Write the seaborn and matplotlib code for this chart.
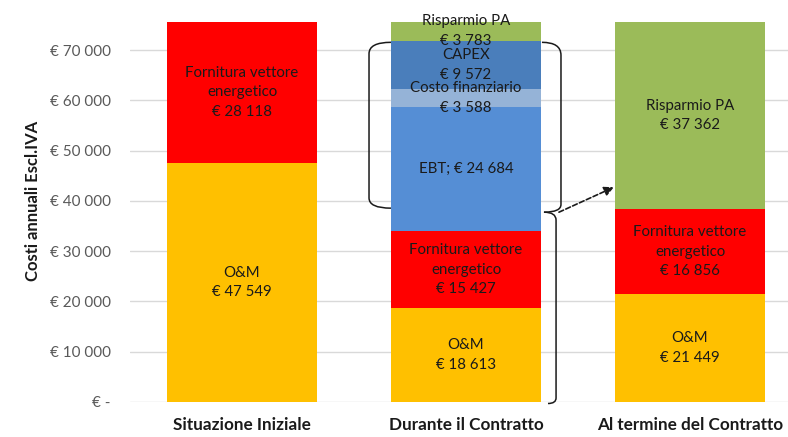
import matplotlib
matplotlib.use("Agg")
import matplotlib.pyplot as plt
from matplotlib.path import Path
from matplotlib.patches import PathPatch
from matplotlib.ticker import FuncFormatter
import numpy as np
import pandas as pd
import seaborn as sns

# ---- data -------------------------------------------------------------
categories = ["Situazione Iniziale", "Durante il Contratto", "Al termine del Contratto"]
om = [47549, 18613, 21449]
fornitura = [28118, 15427, 16856]
ebt = [0, 24684, 0]
costo_finanziario = [0, 3588, 0]
capex = [0, 9572, 0]
risparmio_pa = [0, 3783, 37362]

layers = [
    ("O&M", om, "#FFC000", "O&M\n€ {v}"),
    ("Fornitura vettore energetico", fornitura, "#FF0000", "Fornitura vettore\nenergetico\n€ {v}"),
    ("EBT", ebt, "#558ED5", "EBT; € {v}"),
    ("Costo finanziario", costo_finanziario, "#95B3D7", "Costo finanziario\n€ {v}"),
    ("CAPEX", capex, "#4A7EBB", "CAPEX\n€ {v}"),
    ("Risparmio PA", risparmio_pa, "#9BBB59", "Risparmio PA\n€ {v}"),
]

y_ticks = [0, 10000, 20000, 30000, 40000, 50000, 60000, 70000]


def euro(v):
    return f"{int(round(v)):,}".replace(",", " ")


# ---- figure -----------------------------------------------------------
sns.set_theme(style="white")
plt.rcParams["font.family"] = ["Lato", "DejaVu Sans"]

fig = plt.figure(figsize=(7.88, 4.37), dpi=100)
ax = fig.add_axes([0.165, 0.0801, 0.835, 0.92])

bar_width = 0.67
bottom = np.zeros(len(categories))
for name, values, color, fmt in layers:
    df = pd.DataFrame({"categoria": categories, "valore": values})
    sns.barplot(data=df, x="categoria", y="valore", order=categories,
                color=color, saturation=1, width=bar_width, bottom=bottom,
                linewidth=0, errorbar=None, ax=ax, zorder=2)
    for i, v in enumerate(values):
        if v > 0:
            ax.text(i, bottom[i] + v / 2, fmt.format(v=euro(v)),
                    ha="center", va="center", fontsize=10.8, color="#1a1a1a",
                    linespacing=1.5, zorder=5)
    bottom = bottom + np.asarray(values)

ax.set_xlim(-0.5, 2.4375)
ax.set_ylim(0, 80000)
ax.set_yticks(y_ticks)
ax.yaxis.set_major_formatter(FuncFormatter(lambda v, p: "€ -" if v == 0 else f"€ {euro(v)}"))
ax.grid(axis="y", color="#D9D9D9", linewidth=1.0, zorder=0)
ax.grid(axis="x", visible=False)
for s in ax.spines.values():
    s.set_visible(False)
ax.tick_params(axis="y", length=0, pad=14, labelsize=11, labelcolor="#595959")
ax.tick_params(axis="x", length=0, pad=11)
for lbl in ax.get_xticklabels():
    lbl.set_fontweight("bold")
    lbl.set_fontsize(12.3)
    lbl.set_color("#1a1a1a")
ax.set_xlabel("")
ax.set_ylabel("Costi annuali Escl.IVA", fontsize=12, fontweight="bold",
              color="#1a1a1a", labelpad=6)

# ---- brackets around the contract-period costs -------------------------
M, L, C = Path.MOVETO, Path.LINETO, Path.CURVE3
left_bracket = Path(
    [(0.665, 71570), (0.567, 71570), (0.567, 69300),
     (0.567, 40600), (0.567, 38570), (0.665, 38570)],
    [M, C, C, L, C, C])
upper_right = Path(
    [(1.339, 71570), (1.424, 71570), (1.424, 69000),
     (1.424, 39300), (1.424, 37770), (1.348, 37770)],
    [M, C, C, L, C, C])
lower_right = Path(
    [(1.348, 37770), (1.402, 37770), (1.402, 36200),
     (1.402, 800), (1.402, -300), (1.366, -300)],
    [M, C, C, L, C, C])
for p in (left_bracket, upper_right, lower_right):
    ax.add_patch(PathPatch(p, fill=False, edgecolor="#1a1a1a", linewidth=1.1,
                           clip_on=False, zorder=6))

ax.annotate("", xy=(1.66, 42740), xytext=(1.415, 37770),
            arrowprops=dict(arrowstyle="-|>", color="#1a1a1a", lw=1.2,
                            linestyle=(0, (3, 1.5)), mutation_scale=14,
                            shrinkA=0, shrinkB=0),
            annotation_clip=False, zorder=6)

fig.savefig("out.png", dpi=100)
